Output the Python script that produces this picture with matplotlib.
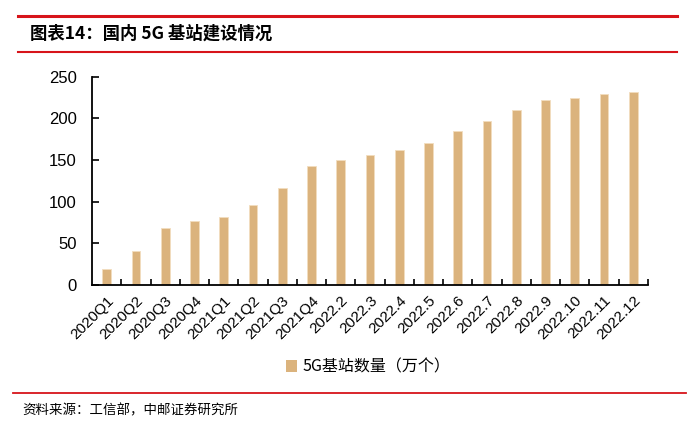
import matplotlib
matplotlib.use("Agg")
import matplotlib.pyplot as plt
from matplotlib.lines import Line2D
from matplotlib.patches import Patch

categories = ["2020Q1", "2020Q2", "2020Q3", "2020Q4", "2021Q1", "2021Q2", "2021Q3", "2021Q4",
              "2022.2", "2022.3", "2022.4", "2022.5", "2022.6", "2022.7", "2022.8", "2022.9",
              "2022.10", "2022.11", "2022.12"]
values = [19.8, 41, 68.8, 77, 81.9, 96.1, 115.9, 142.5,
          150.6, 155.9, 161.5, 170, 185.4, 196.8, 210.2, 222, 225, 228.7, 231.2]
yticks = [0, 50, 100, 150, 200, 250]
series_name = "5G基站数量（万个）"
title = "图表14：国内 5G 基站建设情况"
source = "资料来源：工信部，中邮证券研究所"

bar_color = "#DBB37D"
red = "#D7141A"
cjk = ["Noto Sans CJK SC", "DejaVu Sans"]

fig = plt.figure(figsize=(7.0, 4.28), dpi=100)
ax = fig.add_axes([92/700, 1-285/428, (648-92)/700, (285-76.7)/428])

x = list(range(len(categories)))
ax.bar(x, values, width=0.3, color=bar_color, edgecolor="#F2DDBF", linewidth=0.6)
ax.set_xlim(-0.5, len(categories)-0.5)
ax.set_ylim(0, 250)
ax.set_yticks(yticks)
ax.set_yticklabels([str(v) for v in yticks], fontfamily="Liberation Sans", fontsize=12)
ax.set_xticks(x)
ax.set_xticklabels(categories, rotation=45, ha="right", rotation_mode="anchor",
                   fontfamily="Liberation Sans", fontsize=11)
ax.tick_params(axis="x", length=0, pad=6)
ax.set_xticks([i + 0.5 for i in range(len(categories))], minor=True)
ax.tick_params(axis="x", which="minor", direction="in", length=4, width=1.2, color="black")
ax.tick_params(axis="y", direction="in", length=5, width=1.2, pad=11)
for s in ["top", "right"]:
    ax.spines[s].set_visible(False)
for s in ["left", "bottom"]:
    ax.spines[s].set_linewidth(1.3)
    ax.spines[s].set_color("black")

leg = fig.legend(handles=[Patch(facecolor=bar_color, edgecolor="none", label=series_name)],
                 loc="center", bbox_to_anchor=(368/700, 1-367/428), frameon=False,
                 prop={"family": cjk, "size": 11.5}, handlelength=0.7, handleheight=0.7,
                 handletextpad=0.3)

# header/footer decorations
fig.add_artist(Line2D([18/700, 677/700], [1-15.5/428, 1-15.5/428], color=red, linewidth=2.2))
fig.add_artist(Line2D([18/700, 677/700], [1-51.5/428, 1-51.5/428], color=red, linewidth=1.5))
fig.add_artist(Line2D([13/700, 686/700], [1-393/428, 1-393/428], color=red, linewidth=1.3))
fig.text(30/700, 1-34/428, title, fontfamily=cjk, fontsize=12.5, fontweight="bold",
         va="center", ha="left")
fig.text(22/700, 1-410/428, source, fontfamily=cjk, fontsize=9.7, va="center", ha="left")

fig.savefig("out.png", dpi=100)
